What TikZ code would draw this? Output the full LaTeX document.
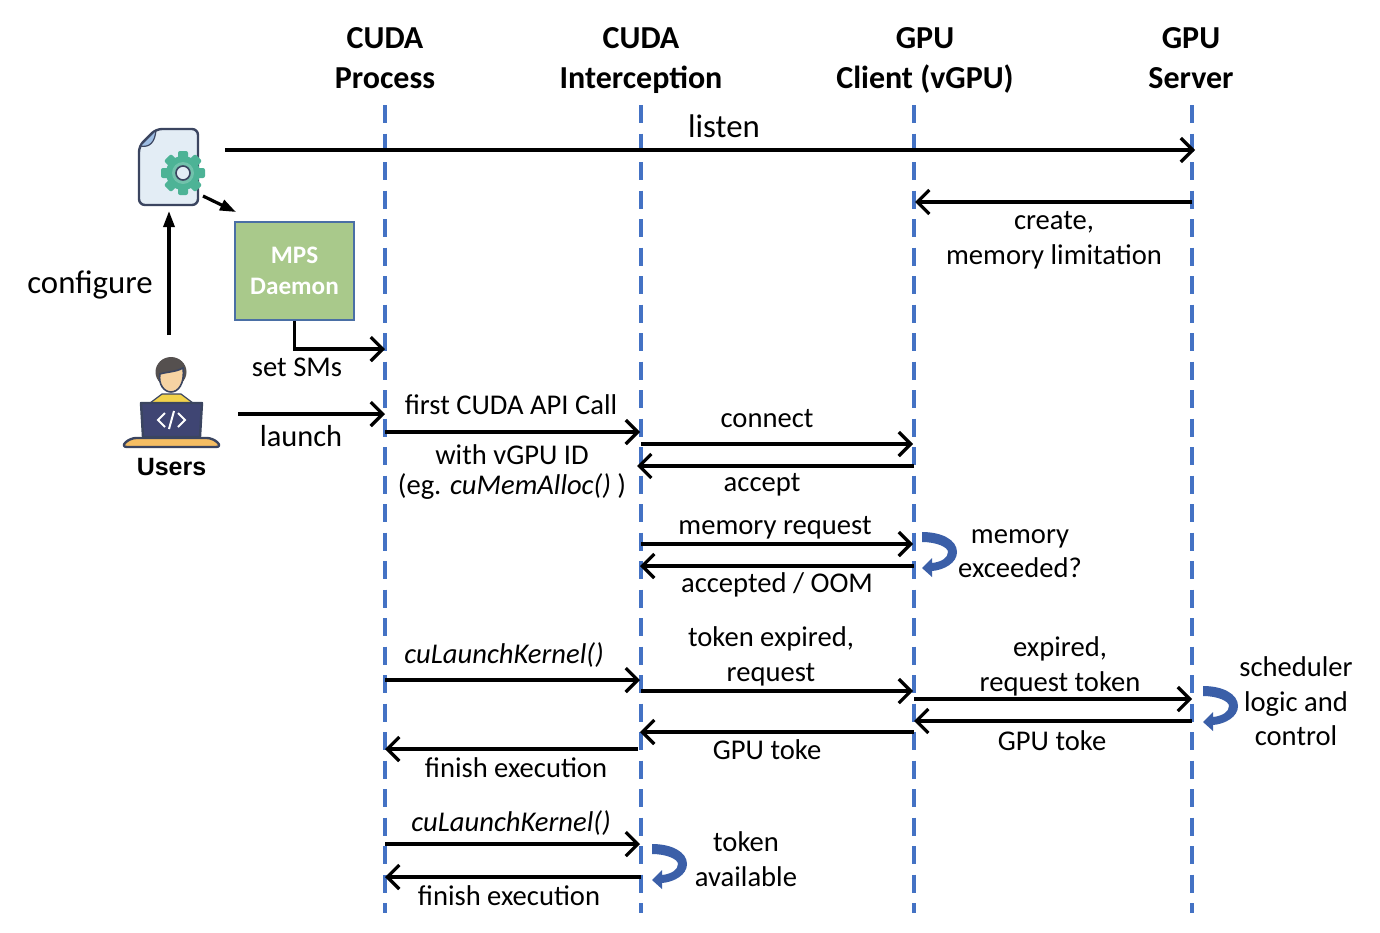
\documentclass[tikz,border=0pt]{standalone}
\usepackage{fontspec}
\setmainfont{Carlito}
\newfontfamily\usersfont{Liberation Sans}
\usetikzlibrary{arrows.meta}

\definecolor{lifeblue}{HTML}{4472C4}
\definecolor{loopblue}{HTML}{3B5FA8}
\definecolor{mpsgreen}{HTML}{A9C98B}
\definecolor{mpsedge}{HTML}{4A6FA5}
\definecolor{iconink}{HTML}{3B4560}
\definecolor{docfill}{HTML}{E3EDF5}
\definecolor{foldblue}{HTML}{9DBDE3}
\definecolor{geargreen}{HTML}{4DB396}
\definecolor{hairgrey}{HTML}{55504F}
\definecolor{skintone}{HTML}{F6D3A3}
\definecolor{shirtyellow}{HTML}{F2D24B}
\definecolor{laptopblue}{HTML}{3F4573}
\definecolor{deskorange}{HTML}{F5BE63}

\tikzset{
  every node/.style={font=\fontsize{14.3}{17.3}\selectfont, inner sep=0pt},
  head/.style={font=\fontsize{16}{20}\selectfont\bfseries, align=center},
  bigtext/.style={font=\fontsize{16.4}{17}\selectfont},
  lifeline/.style={lifeblue, line width=2pt, dash pattern=on 9pt off 5.25pt},
  msg/.style={line width=1.6pt, -{Straight Barb[length=6pt,width=12pt,line width=1.6pt]}},
  solidarrow/.style={line width=1.6pt, -{Triangle[length=8pt,width=5.5pt]}},
  label/.style={align=center},
  ink/.style={draw=iconink, line width=1.2pt, line join=round},
  loopback/.pic={
    \fill[loopblue] (0,0) .. controls (20,0) and (35,8) .. (35,20)
      .. controls (35,31) and (22,38) .. (10,39) -- (10,45) -- (0,36) -- (10,26) -- (10,31)
      .. controls (19,30) and (26,26) .. (26,20)
      .. controls (26,15) and (14,10) .. (0,10) -- cycle;
  }
}

\begin{document}
\begin{tikzpicture}[x=0.5pt,y=-0.5pt]
\useasboundingbox (0,0) rectangle (1380,932);

% headers
\node[head] (procHead) at (385,58) {CUDA\\Process};
\node[head] (icptHead) at (641,61) {CUDA\\Interception};
\node[head] (cliHead) at (925,60) {GPU\\Client (vGPU)};
\node[head] (srvHead) at (1191,58) {GPU\\Server};

% lifelines
\coordinate (procTop) at (385,105);
\coordinate (procEnd) at (385,913);
\coordinate (icptTop) at (641,105);
\coordinate (icptEnd) at (641,913);
\coordinate (cliTop) at (914,105);
\coordinate (cliEnd) at (914,913);
\coordinate (srvTop) at (1192,105);
\coordinate (srvEnd) at (1192,913);
\draw[lifeline] (procTop) -- (procEnd);
\draw[lifeline] (icptTop) -- (icptEnd);
\draw[lifeline] (cliTop) -- (cliEnd);
\draw[lifeline] (srvTop) -- (srvEnd);

% config file icon
\draw[ink, fill=docfill, rounded corners=3pt] (156,129) -- (198,129) -- (198,205) -- (139,205) -- (139,146) -- cycle;
\draw[ink, fill=foldblue, line width=0.6pt] (156,130) -- (140,146) .. controls (150,148) and (155,142) .. cycle;
\foreach \a in {0,45,...,315}
  \fill[geargreen, rotate around={\a:(183,173)}, rounded corners=1pt] (178,151) rectangle (188,162);
\fill[geargreen] (183,173) circle (17);
\fill[geargreen!80!white] (183,173) circle (11);
\draw[iconink, line width=0.8pt, fill=docfill] (183,173) circle (7);

% user icon
\fill[shirtyellow, draw=iconink, line width=0.6pt] (150,403) -- (162,394) -- (181,394) -- (193,403) -- cycle;
\fill[hairgrey] (171,372) ellipse (15.5 and 15);
\draw[iconink, line width=0.8pt, fill=skintone] (160,374) .. controls (166,372) and (176,372) .. (183,368) .. controls (185,384) and (178,392) .. (171,392) .. controls (164,392) and (158,384) .. (160,374) -- cycle;
\draw[ink, fill=laptopblue] (141,403) -- (202,403) -- (200,437) -- (143,437) -- cycle;
\draw[white, line width=1pt] (165,413) -- (158,420) -- (165,427);
\draw[white, line width=1pt] (178,413) -- (185,420) -- (178,427);
\draw[white, line width=1pt] (174,411) -- (169,429);
\draw[ink, fill=deskorange, rounded corners=3pt] (121,447) -- (130,438) -- (213,438) -- (222,447) -- cycle;
\node[font=\usersfont\fontsize{12.5}{14}\selectfont\bfseries] (users) at (171.5,467) {Users};

% MPS box
\node[draw=mpsedge, fill=mpsgreen, line width=0.8pt, minimum width=59.5pt, minimum height=49pt, text=white, align=center, font=\fontsize{12.6}{15.5}\selectfont\bfseries] (mps) at (294.5,271) {MPS\\Daemon};

% configure arrows
\coordinate (userUp) at (169,335);
\coordinate (docDown) at (169,211);
\draw[solidarrow] (userUp) -- (docDown);
\node[bigtext] (configure) at (90,285) {configure};
\coordinate (docOut) at (203,196);
\coordinate (mpsIn) at (236,212);
\draw[solidarrow] (docOut) -- (mpsIn);

% listen, create
\coordinate (listenA) at (225,150);
\coordinate (listenB) at (1195,150);
\draw[msg] (listenA) -- (listenB);
\node[bigtext] (listen) at (724,126.5) {listen};
\coordinate (createA) at (1192,202);
\coordinate (createB) at (915,202);
\draw[msg] (createA) -- (createB);
\node[label] (create) at (1054,240) {create,\\memory limitation};

% set SMs, launch
\coordinate (smsB) at (385,349);
\draw[msg] (mps.south) |- (smsB);
\node (sms) at (297,367) {set SMs};
\coordinate (launchA) at (238,414);
\coordinate (launchB) at (385,414);
\draw[msg] (launchA) -- (launchB);
\node[font=\fontsize{15.2}{17}\selectfont] (launch) at (301,436) {launch};

% first call, connect
\coordinate (firstA) at (385,432);
\coordinate (firstB) at (640,432);
\draw[msg] (firstA) -- (firstB);
\node (firstTop) at (511,405) {first CUDA API Call};
\node[label, font=\fontsize{14.3}{15}\selectfont] (firstLow) at (512,472) {with vGPU ID\\(eg. \textit{cuMemAlloc()} )};
\coordinate (connA) at (641,444);
\coordinate (connB) at (913,444);
\draw[msg] (connA) -- (connB);
\node (connect) at (767,419) {connect};
\coordinate (accA) at (914,466);
\coordinate (accB) at (637,466);
\draw[msg] (accA) -- (accB);
\node (accept) at (762,485) {accept};

% memory check
\coordinate (memA) at (641,544);
\coordinate (memB) at (913,544);
\draw[msg] (memA) -- (memB);
\node (memreq) at (775,528) {memory request};
\coordinate (oomA) at (914,566);
\coordinate (oomB) at (640,566);
\draw[msg] (oomA) -- (oomB);
\node (oom) at (777,584.5) {accepted / OOM};
\pic at (922,532) {loopback};
\node[label] (exceeded) at (1020,553.5) {memory\\exceeded?};

% first kernel launch
\coordinate (kernA) at (385,680);
\coordinate (kernB) at (640,680);
\draw[msg] (kernA) -- (kernB);
\node (kern) at (504,655) {\textit{cuLaunchKernel()}};
\coordinate (tokA) at (641,691);
\coordinate (tokB) at (913,691);
\draw[msg] (tokA) -- (tokB);
\node[label] (tokreq) at (771,656.5) {token expired,\\request};
\coordinate (expA) at (914,699);
\coordinate (expB) at (1192,699);
\draw[msg] (expA) -- (expB);
\node[label] (expreq) at (1060,666.5) {expired,\\request token};
\coordinate (gpuA) at (1192,721);
\coordinate (gpuB) at (914,721);
\draw[msg] (gpuA) -- (gpuB);
\node (gpuRight) at (1052,741) {GPU toke};
\coordinate (gpuC) at (914,732);
\coordinate (gpuD) at (640,732);
\draw[msg] (gpuC) -- (gpuD);
\node (gpuMid) at (767,750) {GPU toke};
\coordinate (finA) at (638,749);
\coordinate (finB) at (385,749);
\draw[msg] (finA) -- (finB);
\node (fin) at (516,768) {finish execution};
\pic at (1203,686) {loopback};
\node[label] (sched) at (1296,701.5) {scheduler\\logic and\\control};

% second kernel launch
\coordinate (kernC) at (385,844);
\coordinate (kernD) at (640,844);
\draw[msg] (kernC) -- (kernD);
\node (kernTwo) at (511,823) {\textit{cuLaunchKernel()}};
\coordinate (finC) at (641,877);
\coordinate (finD) at (385,877);
\draw[msg] (finC) -- (finD);
\node (finTwo) at (509,896) {finish execution};
\pic at (652,844) {loopback};
\node[label] (avail) at (746,859) {token\\available};

\end{tikzpicture}
\end{document}
